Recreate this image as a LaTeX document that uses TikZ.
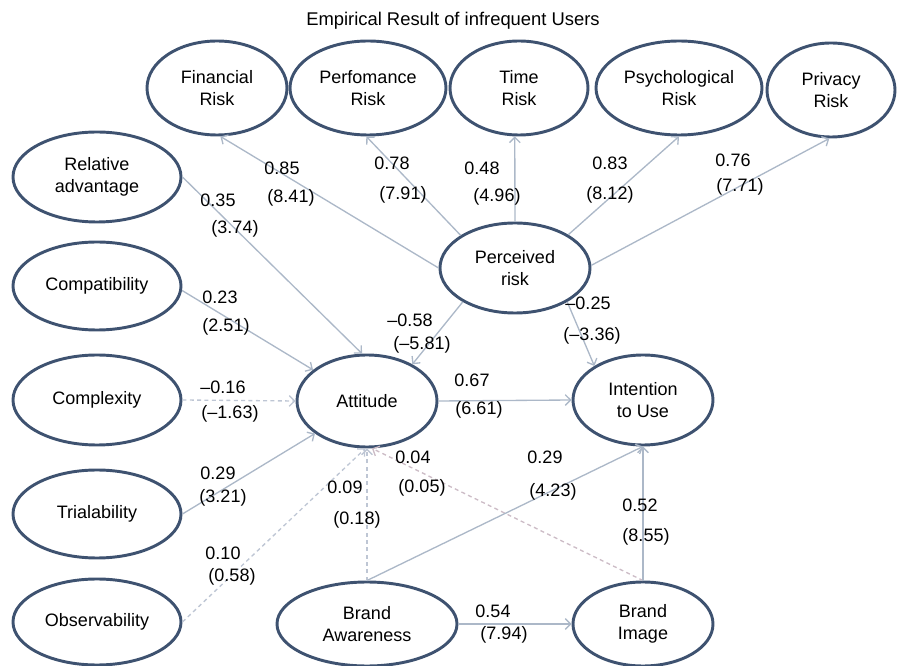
\documentclass[tikz,border=0pt]{standalone}
\usepackage{fontspec}
\setmainfont{Liberation Sans}
\usepackage{xcolor}
\usetikzlibrary{shapes.geometric, arrows.meta}

\definecolor{rim}{RGB}{62,82,112}
\definecolor{link}{RGB}{172,184,200}
\definecolor{tip}{RGB}{120,148,186}
\definecolor{weak}{RGB}{190,198,212}
\definecolor{weakpink}{RGB}{204,188,198}

\tikzset{
  latent/.style={ellipse, draw=rim, line width=2.2pt, inner sep=0pt, align=center,
    font=\fontsize{13.5}{16.5}\selectfont},
  path/.style={draw=link, line width=1pt, -{Straight Barb[length=4pt,width=8pt]}},
  dpath/.style={path, draw=weak, dash pattern=on 3pt off 2.5pt},
  lbl/.style={inner sep=0pt, font=\fontsize{13.5}{16.5}\selectfont}
}

\begin{document}
\begin{tikzpicture}[x=0.75pt, y=-0.75pt]
        \useasboundingbox (0,0) rectangle (897,666);

        % ---------- title ----------
        \node[lbl, font=\fontsize{13.8}{16}\selectfont] (title) at (453,21) {Empirical Result of infrequent Users};

        % ---------- risk dimensions ----------
        \node[latent, minimum width=105pt, minimum height=70.5pt] (fin) at (217,88) {Financial\\Risk};
        \node[latent, minimum width=117pt, minimum height=70.5pt] (perf) at (368,88) {Perfomance\\Risk};
        \node[latent, minimum width=103.5pt, minimum height=70.5pt] (time) at (519,88) {Time\\Risk};
        \node[latent, minimum width=124.5pt, minimum height=70.5pt] (psy) at (679,88) {Psychological\\Risk};
        \node[latent, minimum width=96pt, minimum height=70.5pt] (priv) at (831,90) {Privacy\\Risk};

        % ---------- innovation attributes ----------
        \node[latent, minimum width=126pt, minimum height=67.5pt] (rel) at (97,177) {Relative\\advantage};
        \node[latent, minimum width=126pt, minimum height=66pt] (comp) at (97,286) {Compatibility};
        \node[latent, minimum width=126pt, minimum height=67.5pt] (cplx) at (97,400) {Complexity};
        \node[latent, minimum width=126pt, minimum height=66pt] (trial) at (97,514) {Trialability};
        \node[latent, minimum width=126pt, minimum height=64.5pt] (obs) at (97,622) {Observability};

        % ---------- core constructs ----------
        \node[latent, minimum width=112.5pt, minimum height=67.5pt] (per) at (515,268) {Perceived\\risk};
        \node[latent, minimum width=105pt, minimum height=69pt] (att) at (367,401) {Attitude};
        \node[latent, minimum width=105pt, minimum height=67.5pt] (int) at (643,400) {Intention\\to Use};
        \node[latent, minimum width=135pt, minimum height=63pt] (ba) at (367,624) {Brand\\Awareness};
        \node[latent, minimum width=105pt, minimum height=63pt] (bi) at (643,624) {Brand\\Image};

        % ---------- paths from perceived risk ----------
        \draw[path] (per.180) -- (fin.274);
        \draw[path] (per.149) -- (perf.268);
        \draw[path] (per.90) -- (time.265);
        \draw[path] (per.32) -- (psy.270);
        \draw[path] (per.2) -- (priv.268);

        % ---------- paths into attitude ----------
        \draw[path] (rel.0) -- (att.96);
        \draw[path] (comp.-3) -- (att.150);
        \draw[dpath] (cplx.east) -- (att.west);
        \draw[path] (trial.0) -- (att.212);
        \draw[dpath] (obs.0) -- (att.268);
        \draw[path] (per.213) -- (att.39);
        \draw[dpath] (ba.north) -- (att.south);
        \draw[dpath, draw=weakpink] (bi.north) -- (att.276);

        % ---------- paths into intention ----------
        \draw[path] (att.east) -- (int.west);
        \draw[path] (per.327) -- (int.145);
        \draw[path] (ba.north) -- (int.south);
        \draw[path] (bi.north) -- (int.south);
        \draw[path] (ba.east) -- (bi.west);

        % ---------- estimates ----------
        \node[lbl] (e1) at (282,168) {0.85};
        \node[lbl] (t1) at (291,198) {(8.41)};
        \node[lbl] (e2) at (392,163) {0.78};
        \node[lbl] (t2) at (403,195) {(7.91)};
        \node[lbl] (e3) at (482,168) {0.48};
        \node[lbl] (t3) at (497,197) {(4.96)};
        \node[lbl] (e4) at (610,163) {0.83};
        \node[lbl] (t4) at (610,195) {(8.12)};
        \node[lbl] (e5) at (733,160) {0.76};
        \node[lbl] (t5) at (740,187) {(7.71)};
        \node[lbl] (e6) at (218,200) {0.35};
        \node[lbl] (t6) at (235,229) {(3.74)};
        \node[lbl] (e7) at (220,297) {0.23};
        \node[lbl] (t7) at (226,327) {(2.51)};
        \node[lbl] (e8) at (410,320) {–0.58};
        \node[lbl] (t8) at (422,345) {(–5.81)};
        \node[lbl] (e9) at (223,387) {–0.16};
        \node[lbl] (t9) at (230,414) {(–1.63)};
        \node[lbl] (e10) at (588,303) {–0.25};
        \node[lbl] (t10) at (592,336) {(–3.36)};
        \node[lbl] (e11) at (472,380) {0.67};
        \node[lbl] (t11) at (479,410) {(6.61)};
        \node[lbl] (e12) at (218,473) {0.29};
        \node[lbl] (t12) at (223,498) {(3.21)};
        \node[lbl] (e13) at (223,553) {0.10};
        \node[lbl] (t13) at (232,577) {(0.58)};
        \node[lbl] (e14) at (345,487) {0.09};
        \node[lbl] (t14) at (357,520) {(0.18)};
        \node[lbl] (e15) at (413,457) {0.04};
        \node[lbl] (t15) at (422,488) {(0.05)};
        \node[lbl] (e16) at (545,457) {0.29};
        \node[lbl] (t16) at (553,492) {(4.23)};
        \node[lbl] (e17) at (640,505) {0.52};
        \node[lbl] (t17) at (646,537) {(8.55)};
        \node[lbl] (e18) at (493,611) {0.54};
        \node[lbl] (t18) at (504,635) {(7.94)};

\end{tikzpicture}
\end{document}
